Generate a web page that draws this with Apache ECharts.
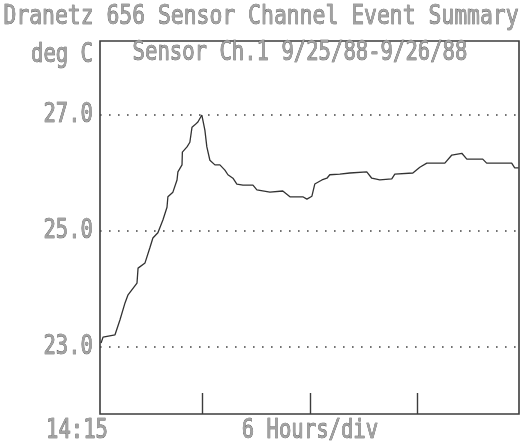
<!DOCTYPE html>
<html>
<head>
<meta charset="utf-8">
<script src="https://cdn.jsdelivr.net/npm/echarts@6/dist/echarts.min.js"></script>
<style>
  html, body { margin: 0; padding: 0; background: #fff; }
  #chart { width: 523px; height: 442px; }
</style>
</head>
<body>
<div id="chart"></div>
<script>
// Sensor channel 1 temperature log, hours after 14:15 on 9/25/88
const hours = [
  0.06, 0.17, 0.84, 1.12, 1.40, 1.57, 2.07, 2.13, 2.52, 2.80, 2.96, 3.24,
  3.52, 3.75, 3.80, 4.08, 4.31, 4.36, 4.59, 4.61, 4.87, 5.03, 5.15, 5.31,
  5.48, 5.70, 5.87, 5.98, 6.15, 6.43, 6.71, 6.99, 7.16, 7.44, 7.66, 8.00,
  8.56, 8.78, 9.51, 10.23, 10.63, 11.35, 11.58, 11.86, 12.02, 12.42, 12.70,
  12.86, 13.42, 13.98, 14.93, 15.21, 15.66, 16.33, 16.50, 17.51, 17.90,
  18.29, 19.30, 19.69, 20.25, 20.53, 21.42, 21.64, 23.04, 23.21, 23.43
];
const tempsC = [
  23.07, 23.17, 23.21, 23.47, 23.76, 23.90, 24.10, 24.36, 24.45, 24.72, 24.88, 24.97,
  25.19, 25.41, 25.59, 25.67, 25.88, 26.02, 26.14, 26.36, 26.45, 26.53, 26.79, 26.83,
  26.88, 27.00, 26.74, 26.45, 26.22, 26.14, 26.14, 26.05, 25.97, 25.91, 25.81, 25.79,
  25.79, 25.71, 25.67, 25.69, 25.59, 25.59, 25.55, 25.60, 25.81, 25.88, 25.91,
  25.97, 25.98, 26.00, 26.02, 25.91, 25.88, 25.90, 25.98, 26.00, 26.10,
  26.17, 26.17, 26.31, 26.34, 26.24, 26.24, 26.17, 26.17, 26.09, 26.09
];
const yTickValues = [23, 25, 27];
const yTickLabels = ['23.0', '25.0', '27.0'];
const xTickHours = [5.75, 11.75, 17.75];     // 20:00, 02:00, 08:00
const startLabel = '14:15';
const xAxisTitle = '6 Hours/div';
const yAxisTitle = 'deg C';
const chartTitle = 'Dranetz 656 Sensor Channel Event Summary';
const subTitle = 'Sensor Ch.1 9/25/88-9/26/88';

const FONT = '"DejaVu Sans Mono", monospace';
const textStyle = (size) => ({
  font: size + 'px ' + FONT,
  fill: '#a2a2a2',
  stroke: '#474747',
  lineWidth: 0.55
});

const chart = echarts.init(document.getElementById('chart'), null, { renderer: 'canvas' });

chart.setOption({
  animation: false,
  backgroundColor: '#fff',
  grid: {
    left: 100, right: 4, top: 41, bottom: 28,
    show: true, borderColor: '#3c3c3c', borderWidth: 1.6,
    containLabel: false
  },
  xAxis: {
    type: 'value', min: 0, max: 23.45,
    axisLine: { show: false },
    splitLine: { show: false },
    axisLabel: { show: false },
    axisTick: {
      show: true, inside: true, length: 21,
      customValues: xTickHours,
      lineStyle: { color: '#3c3c3c', width: 1.4 }
    }
  },
  yAxis: {
    type: 'value', min: 21.845, max: 28.276,
    axisLine: { show: false },
    axisTick: { show: false },
    axisLabel: { show: false },
    splitLine: { show: false }
  },
  series: [{
    type: 'line',
    data: hours.map((h, i) => [h, tempsC[i]]),
    showSymbol: false,
    lineStyle: { color: '#333', width: 1.3 },
    markLine: {
      silent: true,
      symbol: 'none',
      label: { show: false },
      lineStyle: { color: '#444', width: 1.6, type: [1.6, 7.4] },
      data: yTickValues.map(v => ({ yAxis: v }))
    }
  }]
});

// Text drawn in a tall, narrow print-style face, placed from the axis scales
const SY = 1.33;
const graphics = [];
function addText(text, x, y, align, size, sy) {
  graphics.push({
    type: 'text', x: x, y: y, scaleY: sy || SY, silent: true,
    style: Object.assign({ text: text, align: align, verticalAlign: 'middle' }, textStyle(size))
  });
}
yTickValues.forEach((v, i) => {
  const p = chart.convertToPixel({ gridIndex: 0 }, [0, v]);
  addText(yTickLabels[i], p[0] - 7, p[1], 'right', 20.6);
});
const p0 = chart.convertToPixel({ gridIndex: 0 }, [0, 21.845]);
const pMid = chart.convertToPixel({ gridIndex: 0 }, [xTickHours[1], 21.845]);
addText(startLabel, p0[0] - 23, p0[1] + 17, 'center', 20.6);
addText(xAxisTitle, pMid[0], p0[1] + 17, 'center', 20.6);
addText(yAxisTitle, 62, 55, 'center', 20.6);
addText(subTitle, 300, 53, 'center', 20.6);
addText(chartTitle, 261, 17, 'center', 21.4, 1.28);

chart.setOption({ graphic: graphics });
</script>
</body>
</html>
